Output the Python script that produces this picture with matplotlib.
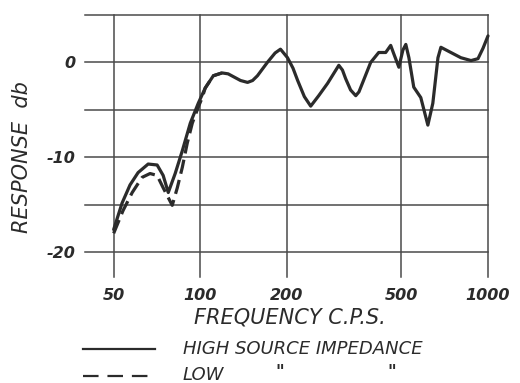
import matplotlib
matplotlib.use("Agg")
import matplotlib.pyplot as plt
from matplotlib.ticker import NullLocator
from matplotlib.lines import Line2D

# Response curves (frequency c.p.s., response db)
high_freq = [50, 53.5, 57, 60.8, 65.9, 70.8, 74.3, 77.4, 81.8, 86.6, 92.3, 98.4,
             104, 111, 119, 125, 138, 146, 152, 158, 171, 182, 190, 201, 210,
             218, 230, 242, 258, 277, 303, 312, 320, 333, 347, 356, 367, 391,
             417, 441, 459, 470, 490, 506, 518, 531, 552, 584, 618, 643, 670,
             686, 743, 805, 873, 923, 961, 1000]
high_db = [-17.6, -14.8, -12.9, -11.6, -10.7, -10.8, -11.9, -13.7, -11.7, -9.3,
           -6.4, -4.3, -2.7, -1.4, -1.1, -1.2, -1.9, -2.1, -1.9, -1.4, 0.0, 1.0,
           1.4, 0.5, -0.6, -1.9, -3.6, -4.6, -3.5, -2.2, -0.3, -0.8, -1.7, -2.9,
           -3.5, -3.1, -2.1, 0.0, 1.05, 1.05, 1.8, 0.95, -0.5, 1.3, 1.9, 0.5,
           -2.6, -3.7, -6.6, -4.3, 0.5, 1.6, 1.05, 0.5, 0.2, 0.4, 1.5, 2.8]

low_freq = [50, 53.9, 58, 62.8, 66.9, 70.8, 74.3, 79.9, 83.2, 86.6, 90.1, 93.8,
            98.4, 101.6, 104, 111, 119]
low_db = [-18.0, -15.6, -13.7, -12.1, -11.7, -11.9, -13.2, -15.05, -13.2, -11.05,
          -8.5, -6.4, -4.7, -3.7, -2.7, -1.4, -1.1]

freq_ticks = [50, 100, 200, 500, 1000]
freq_labels = ["50", "100", "200", "500", "1000"]
db_grid = [-20, -15, -10, -5, 0, 5]
db_ticks = [-20, -10, 0]
db_labels = ["-20", "-10", "0"]

ink = "#2b2b2b"
grid_ink = "#4a4a4a"
plt.rcParams['font.family'] = ['DejaVu Sans']
plt.rcParams['font.style'] = 'italic'

W, H = 520, 383
fig = plt.figure(figsize=(W / 100, H / 100), dpi=100)
ax = fig.add_axes([85 / W, 1 - 277 / H, (488 - 85) / W, (277 - 15) / H])
ax.set_xscale("log")
xlo, xhi = 39.75, 1000
ylo, yhi = -22.6, 5
ax.set_xlim(xlo, xhi)
ax.set_ylim(ylo, yhi)

# hand drawn grid, lines run past the first value like ticks
for y in db_grid:
    ax.plot([xlo, xhi], [y, y], color=grid_ink, lw=1.1, clip_on=False, zorder=1)
for f in freq_ticks:
    ax.plot([f, f], [ylo, yhi], color=grid_ink, lw=1.1, clip_on=False, zorder=1)

ax.plot(high_freq, high_db, color=ink, lw=2.3, solid_joinstyle='round',
        solid_capstyle='round', zorder=3, clip_on=False)
ax.plot(low_freq, low_db, color=ink, lw=2.3, dashes=(4.5, 2),
        dash_joinstyle='round', zorder=3, clip_on=False)

for s in ax.spines.values():
    s.set_visible(False)
ax.xaxis.set_minor_locator(NullLocator())
ax.set_xticks(freq_ticks, freq_labels)
ax.set_yticks(db_ticks, db_labels)
ax.tick_params(length=0, labelsize=11.5, labelcolor=ink)
ax.tick_params(axis='x', pad=8)
ax.tick_params(axis='y', pad=7)
for lab in ax.get_xticklabels() + ax.get_yticklabels():
    lab.set_fontweight('bold')

fig.text(290 / W, 1 - 318 / H, "FREQUENCY C.P.S.", ha='center', va='center',
         fontsize=15, color=ink)
fig.text(22 / W, 1 - 157 / H, "RESPONSE  db", ha='center', va='center',
         rotation=90, fontsize=15, color=ink)

# legend drawn by hand under the chart
fig.add_artist(Line2D([83 / W, 155 / W], [1 - 349 / H, 1 - 349 / H],
                      color=ink, lw=1.6))
fig.add_artist(Line2D([83 / W, 155 / W], [1 - 376 / H, 1 - 376 / H],
                      color=ink, lw=1.6, dashes=(7, 4)))
fig.text(183 / W, 1 - 349 / H, "HIGH SOURCE IMPEDANCE", ha='left', va='center',
         fontsize=13, color=ink)
fig.text(183 / W, 1 - 375 / H, "LOW", ha='left', va='center',
         fontsize=13, color=ink)
fig.text(280 / W, 1 - 372 / H, '"', ha='center', va='center', fontsize=12,
         fontweight='bold', color=ink)
fig.text(392 / W, 1 - 372 / H, '"', ha='center', va='center', fontsize=12,
         fontweight='bold', color=ink)

fig.savefig("out.png", dpi=100)
